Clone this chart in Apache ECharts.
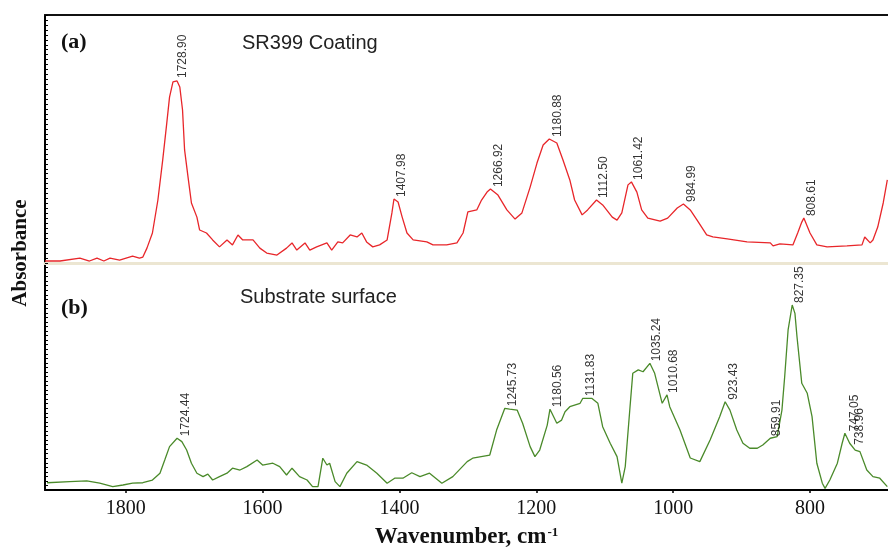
<!DOCTYPE html>
<html>
<head>
<meta charset="utf-8">
<script src="https://cdn.jsdelivr.net/npm/echarts@6/dist/echarts.min.js"></script>
<style>
html,body{margin:0;padding:0;background:#fff;}
#chart{width:888px;height:555px;}
</style>
</head>
<body>
<div id="chart"></div>
<script>
// ---- data (wavenumber, relative absorbance) ----
const xTicks = [1800, 1600, 1400, 1200, 1000, 800];

const specA = [
[1918,0.008],[1896,0.008],[1867,0.020],[1853,0.008],[1842,0.020],[1832,0.008],[1823,0.020],[1809,0.012],[1790,0.028],[1780,0.020],[1775,0.024],[1769,0.060],[1761,0.121],[1753,0.254],[1746,0.415],[1740,0.565],[1736,0.669],[1731,0.730],[1729,0.738],[1725,0.734],[1721,0.710],[1717,0.617],[1714,0.456],[1709,0.347],[1704,0.242],[1696,0.185],[1692,0.133],[1682,0.121],[1673,0.093],[1663,0.065],[1652,0.093],[1644,0.073],[1636,0.113],[1629,0.093],[1614,0.093],[1604,0.060],[1594,0.040],[1579,0.032],[1565,0.060],[1557,0.081],[1550,0.052],[1538,0.081],[1531,0.052],[1521,0.065],[1506,0.081],[1499,0.052],[1490,0.085],[1483,0.081],[1472,0.113],[1462,0.105],[1455,0.121],[1448,0.085],[1439,0.065],[1429,0.073],[1418,0.093],[1411,0.202],[1408,0.258],[1402,0.246],[1396,0.185],[1389,0.121],[1380,0.093],[1360,0.085],[1351,0.073],[1331,0.073],[1316,0.081],[1307,0.121],[1300,0.206],[1287,0.214],[1280,0.254],[1272,0.286],[1267,0.298],[1256,0.274],[1243,0.214],[1231,0.177],[1221,0.202],[1209,0.306],[1199,0.403],[1190,0.476],[1181,0.500],[1170,0.484],[1161,0.415],[1151,0.335],[1144,0.254],[1133,0.194],[1125,0.214],[1112,0.254],[1103,0.234],[1089,0.185],[1082,0.173],[1075,0.202],[1066,0.315],[1061,0.327],[1053,0.286],[1046,0.214],[1037,0.181],[1019,0.169],[1008,0.181],[994,0.222],[985,0.238],[975,0.214],[965,0.173],[951,0.113],[942,0.105],[921,0.097],[892,0.085],[858,0.081],[854,0.069],[844,0.077],[825,0.073],[818,0.121],[812,0.165],[809,0.181],[800,0.121],[790,0.073],[775,0.065],[746,0.069],[724,0.073],[720,0.105],[712,0.081],[708,0.093],[701,0.145],[693,0.242],[687,0.335]
];

const specB = [
[1915,0.032],[1882,0.037],[1857,0.040],[1838,0.030],[1819,0.015],[1804,0.022],[1790,0.030],[1775,0.032],[1761,0.044],[1750,0.074],[1743,0.132],[1736,0.191],[1725,0.228],[1718,0.213],[1711,0.176],[1704,0.118],[1696,0.074],[1687,0.059],[1680,0.070],[1673,0.044],[1663,0.059],[1652,0.074],[1644,0.096],[1633,0.088],[1623,0.103],[1608,0.132],[1600,0.110],[1585,0.118],[1575,0.103],[1565,0.066],[1557,0.096],[1546,0.059],[1535,0.044],[1527,0.015],[1519,0.015],[1512,0.140],[1506,0.110],[1502,0.118],[1494,0.037],[1487,0.015],[1477,0.074],[1462,0.125],[1448,0.110],[1433,0.074],[1418,0.030],[1407,0.052],[1395,0.052],[1382,0.076],[1370,0.059],[1356,0.074],[1338,0.030],[1322,0.059],[1301,0.125],[1293,0.140],[1268,0.154],[1258,0.264],[1246,0.360],[1239,0.356],[1228,0.352],[1220,0.294],[1209,0.191],[1202,0.147],[1195,0.176],[1184,0.286],[1180,0.356],[1170,0.294],[1163,0.308],[1158,0.345],[1151,0.367],[1136,0.382],[1132,0.404],[1119,0.404],[1110,0.382],[1103,0.279],[1092,0.206],[1082,0.147],[1075,0.030],[1070,0.103],[1063,0.367],[1059,0.514],[1051,0.529],[1044,0.521],[1034,0.558],[1027,0.514],[1016,0.382],[1009,0.419],[1005,0.367],[990,0.264],[975,0.141],[961,0.125],[946,0.220],[932,0.323],[924,0.389],[917,0.352],[907,0.264],[898,0.206],[888,0.184],[877,0.184],[869,0.198],[858,0.228],[848,0.235],[841,0.352],[837,0.499],[832,0.705],[826,0.815],[822,0.778],[819,0.675],[812,0.470],[804,0.426],[797,0.323],[790,0.118],[782,0.030],[778,0.007],[771,0.044],[760,0.118],[753,0.206],[749,0.250],[742,0.206],[734,0.176],[727,0.169],[717,0.088],[708,0.059],[698,0.052],[687,0.015]
];

const peakWaveA = [1728.90, 1407.98, 1266.92, 1180.88, 1112.50, 1061.42, 984.99, 808.61];
const peakAbsA  = [0.738, 0.258, 0.298, 0.500, 0.254, 0.327, 0.238, 0.181];

const peakWaveB = [1724.44, 1245.73, 1180.56, 1131.83, 1035.24, 1010.68, 923.43, 859.91, 827.35, 747.05, 738.96];
const peakAbsB  = [0.228, 0.360, 0.356, 0.404, 0.558, 0.419, 0.389, 0.228, 0.815, 0.250, 0.190];

const xMin = 686, xMax = 1918;

// ---- chart ----
const chart = echarts.init(document.getElementById('chart'), null, {renderer: 'canvas'});

function peakData(waves, vals) {
  return waves.map((w, i) => ({ name: w.toFixed(2), value: [w, vals[i]] }));
}

const peakLabel = {
  show: true,
  position: [2, -2],
  rotate: 90,
  align: 'left',
  verticalAlign: 'top',
  formatter: '{b}',
  fontFamily: 'Liberation Sans',
  fontSize: 12,
  lineHeight: 12,
  color: '#000'
};

const yAxisBase = {
  type: 'value', min: 0, max: 1, interval: 0.1,
  axisLine: { show: true, lineStyle: { color: '#000', width: 2 } },
  axisTick: { show: true, inside: true, length: 3, lineStyle: { color: '#000', width: 1 } },
  minorTick: { show: true, splitNumber: 5, length: 3, lineStyle: { color: '#000', width: 1 } },
  axisLabel: { show: false },
  splitLine: { show: false }
};

const option = {
  backgroundColor: '#fff',
  animation: false,
  grid: [
    { left: 45, right: 0, top: 15, height: 248 },
    { left: 45, right: 0, top: 263, height: 227 }
  ],
  xAxis: [
    { // top panel bottom separator
      gridIndex: 0, type: 'value', min: xMin, max: xMax, inverse: true, position: 'bottom',
      axisLine: { show: true, onZero: false, lineStyle: { color: '#ece6d2', width: 3 } },
      axisTick: { show: false }, axisLabel: { show: false }, splitLine: { show: false }
    },
    { // top border
      gridIndex: 0, type: 'value', min: xMin, max: xMax, inverse: true, position: 'top',
      axisLine: { show: true, onZero: false, lineStyle: { color: '#111', width: 2 } },
      axisTick: { show: false }, axisLabel: { show: false }, splitLine: { show: false }
    },
    { // main bottom axis
      gridIndex: 1, type: 'value', min: xMin, max: xMax, inverse: true, position: 'bottom',
      axisLine: { show: true, onZero: false, lineStyle: { color: '#000', width: 2 } },
      axisTick: { show: true, length: 3, customValues: xTicks, lineStyle: { color: '#000', width: 1.5 } },
      axisLabel: {
        show: true, customValues: xTicks, margin: 9,
        formatter: v => String(v),
        fontFamily: 'Liberation Serif', fontSize: 20, color: '#111'
      },
      splitLine: { show: false },
      name: 'Wavenumber, cm{sup|-1}',
      nameLocation: 'middle',
      nameGap: 36,
      nameTextStyle: {
        fontFamily: 'Liberation Serif', fontSize: 23, fontWeight: 'bold', color: '#111',
        rich: { sup: { fontFamily: 'Liberation Serif', fontSize: 13, fontWeight: 'bold', color: '#111', verticalAlign: 'top', padding: [0, 0, 10, 1] } }
      }
    }
  ],
  yAxis: [
    Object.assign({ gridIndex: 0 }, yAxisBase),
    Object.assign({ gridIndex: 1 }, yAxisBase)
  ],
  series: [
    {
      type: 'line', xAxisIndex: 0, yAxisIndex: 0, data: specA,
      showSymbol: false, symbol: 'none', silent: true,
      lineStyle: { color: '#e8262a', width: 1.3 }
    },
    {
      type: 'line', xAxisIndex: 2, yAxisIndex: 1, data: specB,
      showSymbol: false, symbol: 'none', silent: true,
      lineStyle: { color: '#4a8a2a', width: 1.3 }
    },
    {
      type: 'scatter', xAxisIndex: 0, yAxisIndex: 0, symbolSize: 0, silent: true,
      data: peakData(peakWaveA, peakAbsA), label: peakLabel, z: 5
    },
    {
      type: 'scatter', xAxisIndex: 2, yAxisIndex: 1, symbolSize: 0, silent: true,
      data: peakData(peakWaveB, peakAbsB), label: peakLabel, z: 5
    }
  ],
  graphic: [
    { type: 'text', left: 61, top: 31, style: { text: '(a)', font: 'bold 22px "Liberation Serif"', fill: '#111' } },
    { type: 'text', left: 242, top: 33, style: { text: 'SR399 Coating', font: '20px "Liberation Sans"', fill: '#222' } },
    { type: 'text', left: 61, top: 297, style: { text: '(b)', font: 'bold 22px "Liberation Serif"', fill: '#111' } },
    { type: 'text', left: 240, top: 287, style: { text: 'Substrate surface', font: '20px "Liberation Sans"', fill: '#222' } },
    { type: 'text', x: 21, y: 253, rotation: Math.PI / 2,
      style: { text: 'Absorbance', font: 'bold 21px "Liberation Serif"', fill: '#111', align: 'center', verticalAlign: 'middle' } }
  ]
};

chart.setOption(option);
</script>
</body>
</html>
